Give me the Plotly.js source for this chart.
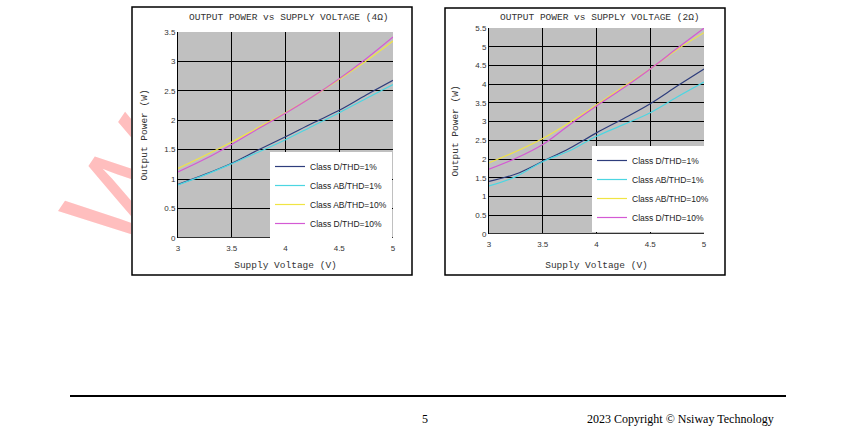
<!DOCTYPE html>
<html>
<head>
<meta charset="utf-8">
<script src="https://cdn.plot.ly/plotly-3.0.1.min.js"></script>
<style>
html, body { margin: 0; padding: 0; background: #fff; }
#wrap { position: relative; width: 850px; height: 435px; overflow: hidden; }
#chart { position: absolute; left: 0; top: 0; width: 850px; height: 435px; }
/* watermark only shows left of the first chart box, as in the source page */
#clip { position: absolute; left: 0; top: 0; width: 131px; height: 435px; overflow: hidden; z-index: 2; }
#mark { position: absolute; left: 128px; top: 186px; transform: translate(-50%, -50%) rotate(-56deg);
        font: 128px "Liberation Sans"; color: rgb(255, 190, 190); line-height: 1; }
</style>
</head>
<body>
<div id="wrap">
  <div id="chart"></div>
  <div id="clip"><div id="mark">W</div></div>
</div>
<script>
////////// data
var voltage = [3, 3.25, 3.5, 3.75, 4, 4.25, 4.5, 4.75, 5];
var seriesNames = ['Class D/THD=1%', 'Class AB/THD=1%', 'Class AB/THD=10%', 'Class D/THD=10%'];
var seriesColors = ['#2e3d7c', '#4cd6e2', '#f0e444', '#d45ad4'];

// 4 ohm
var p4_d1   = [0.91, 1.08, 1.27, 1.50, 1.72, 1.95, 2.17, 2.43, 2.68];
var p4_ab1  = [0.90, 1.07, 1.26, 1.46, 1.67, 1.90, 2.13, 2.37, 2.61];
var p4_ab10 = [1.18, 1.40, 1.63, 1.88, 2.13, 2.40, 2.70, 3.01, 3.35];
var p4_d10  = [1.12, 1.34, 1.59, 1.86, 2.12, 2.40, 2.71, 3.05, 3.42];

// 2 ohm
var p2_d1   = [1.40, 1.60, 1.94, 2.29, 2.70, 3.08, 3.48, 3.95, 4.41];
var p2_ab1  = [1.28, 1.53, 1.93, 2.22, 2.61, 2.92, 3.24, 3.66, 4.06];
var p2_ab10 = [1.90, 2.20, 2.55, 2.98, 3.45, 3.93, 4.41, 4.93, 5.38];
var p2_d10  = [1.73, 2.02, 2.39, 2.92, 3.42, 3.90, 4.41, 4.96, 5.50];

var xTicks = [3, 3.5, 4, 4.5, 5];
var yTicks4 = [0, 0.5, 1, 1.5, 2, 2.5, 3, 3.5];
var yTicks2 = [0, 0.5, 1, 1.5, 2, 2.5, 3, 3.5, 4, 4.5, 5, 5.5];

var W = 850, H = 435;
function px(x) { return x / W; }
function py(y) { return 1 - y / H; }

////////// traces
var data = [];
var left = [p4_d1, p4_ab1, p4_ab10, p4_d10];
var right = [p2_d1, p2_ab1, p2_ab10, p2_d10];
for (var i = 0; i < 4; i++) {
  data.push({ x: voltage, y: left[i], name: seriesNames[i], type: 'scatter', mode: 'lines',
    line: { color: seriesColors[i], width: 1.2, shape: 'spline' }, xaxis: 'x', yaxis: 'y', legend: 'legend' });
}
for (var i = 0; i < 4; i++) {
  data.push({ x: voltage, y: right[i], name: seriesNames[i], type: 'scatter', mode: 'lines',
    line: { color: seriesColors[i], width: 1.2, shape: 'spline' }, xaxis: 'x2', yaxis: 'y2', legend: 'legend2' });
}

////////// layout
var tickFont = { family: 'Liberation Sans', size: 8, color: '#333' };
var monoFont = { family: 'Liberation Mono', size: 9.5, color: '#333' };

function xAx(dom, anchor, standoff) {
  return { domain: dom, anchor: anchor, range: [3, 5], tickvals: xTicks, ticks: '', ticklabelstandoff: 4,
    showgrid: true, gridcolor: '#000', gridwidth: 1, showline: false, zeroline: false,
    tickfont: tickFont, fixedrange: true,
    title: { text: 'Supply Voltage (V)', font: monoFont, standoff: standoff } };
}
// range padded a hair so the grid lines at both ends are drawn
function yAx(dom, anchor, top, vals) {
  return { domain: dom, anchor: anchor, range: [-0.004, top + 0.004], tickvals: vals, ticks: '',
    showgrid: true, gridcolor: '#000', gridwidth: 1, showline: true, linecolor: '#000', linewidth: 1,
    zeroline: true, zerolinecolor: '#333', zerolinewidth: 1, tickfont: tickFont, fixedrange: true,
    title: { text: 'Output Power (W)', font: monoFont, standoff: 14 } };
}

var legendBase = { bgcolor: '#fff', borderwidth: 0, font: { family: 'Liberation Sans', size: 8.5, color: '#222' },
  xanchor: 'left', yanchor: 'top', tracegroupgap: 0 };

var footFont = { family: 'Liberation Serif', size: 12, color: '#000' };

var layout = {
  width: W, height: H,
  margin: { l: 0, r: 0, t: 0, b: 0 },
  paper_bgcolor: '#fff',
  plot_bgcolor: '#c0c0c0',
  showlegend: true,
  xaxis: xAx([px(178), px(393)], 'y', 9),
  yaxis: yAx([py(238), py(32)], 'x', 3.5, yTicks4),
  xaxis2: xAx([px(489), px(704)], 'y2', 13),
  yaxis2: yAx([py(234), py(28)], 'x2', 5.5, yTicks2),
  legend: Object.assign({ x: px(270), y: py(152) }, legendBase),
  legend2: Object.assign({ x: px(592), y: py(146) }, legendBase),
  shapes: [
    { type: 'rect', xref: 'paper', yref: 'paper', x0: px(132), x1: px(412), y0: py(275), y1: py(7),
      line: { color: '#000', width: 1.5 }, layer: 'below' },
    { type: 'rect', xref: 'paper', yref: 'paper', x0: px(445), x1: px(725), y0: py(275), y1: py(8),
      line: { color: '#000', width: 1.5 }, layer: 'below' },
    { type: 'line', xref: 'paper', yref: 'paper', x0: px(70), x1: px(786), y0: py(396), y1: py(396),
      line: { color: '#000', width: 2 } }
  ],
  annotations: [
    { text: 'OUTPUT POWER vs SUPPLY VOLTAGE (4Ω)', xref: 'paper', yref: 'paper', x: px(289), y: py(18),
      xanchor: 'center', yanchor: 'middle', showarrow: false, font: monoFont },
    { text: 'OUTPUT POWER vs SUPPLY VOLTAGE (2Ω)', xref: 'paper', yref: 'paper', x: px(600), y: py(17),
      xanchor: 'center', yanchor: 'middle', showarrow: false, font: monoFont },
    { text: '5', xref: 'paper', yref: 'paper', x: px(425), y: py(419), xanchor: 'center', yanchor: 'middle',
      showarrow: false, font: footFont },
    { text: '2023 Copyright © Nsiway Technology', xref: 'paper', yref: 'paper', x: px(776), y: py(419),
      xanchor: 'right', yanchor: 'middle', showarrow: false, font: footFont }
  ]
};

Plotly.newPlot('chart', data, layout, { displayModeBar: false, staticPlot: true });
</script>
</body>
</html>
